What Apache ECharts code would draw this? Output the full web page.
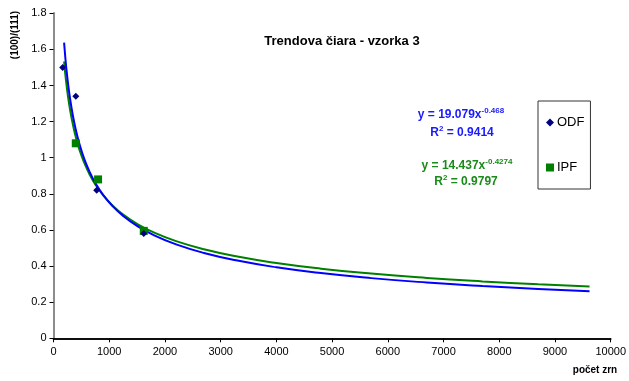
<!DOCTYPE html>
<html>
<head>
<meta charset="utf-8">
<style>
  html, body { margin: 0; padding: 0; background: #fff; }
  #chart { width: 629px; height: 381px; }
</style>
<script src="https://cdn.jsdelivr.net/npm/echarts@6/dist/echarts.min.js"></script>
</head>
<body>
<div id="chart"></div>
<script>
// Measured samples: grain count vs. (100)/(111) ratio
const odfX = [165, 400, 775, 1620];
const odfY = [1.50, 1.34, 0.82, 0.58];
const ipfX = [400, 800, 1620];
const ipfY = [1.08, 0.88, 0.595];

// Power-law trendlines y = a * x^b, coefficients as printed on the chart
const odfFit = [19.079, -0.468];
const ipfFit = [14.437, -0.4274];
const trendX = [190, 210, 230, 260, 300, 350, 400, 470, 550, 650, 750, 900, 1050,
                1250, 1500, 1800, 2200, 2700, 3300, 4000, 4800, 5700, 6700, 7700, 8700, 9620];

const xTicks = [0, 10000, 1000];
const yTicks = [0, 1.8, 0.2];

function trendPoints(fit) {
  return trendX.map(x => [x, fit[0] * Math.pow(x, fit[1])]);
}
function pairs(xs, ys) {
  return xs.map((x, i) => [x, ys[i]]);
}

const FONT = 'Liberation Sans, Arial, sans-serif';
const chart = echarts.init(document.getElementById('chart'), null, { renderer: 'canvas' });

function supLabel(main, sup, tail, color) {
  return {
    text: '{b|' + main + '}{s|' + sup + '}' + (tail ? '{b|' + tail + '}' : ''),
    rich: {
      b: { fontSize: 12, fontWeight: 'bold', fill: color, lineHeight: 16, fontFamily: FONT },
      s: { fontSize: 8, fontWeight: 'bold', fill: color, verticalAlign: 'top', fontFamily: FONT }
    }
  };
}

const blueTxt = '#1a1aff';
const greenTxt = '#1a8a1a';
const eqOdf = supLabel('y = ' + odfFit[0] + 'x', String(odfFit[1]), '', blueTxt);
const r2Odf = supLabel('R', '2', ' = 0.9414', blueTxt);
const eqIpf = supLabel('y = ' + ipfFit[0] + 'x', String(ipfFit[1]), '', greenTxt);
const r2Ipf = supLabel('R', '2', ' = 0.9797', greenTxt);

function textAt(lbl, x, y) {
  return { type: 'text', z: 10, style: Object.assign({ x: x, y: y, align: 'center', verticalAlign: 'middle' }, lbl) };
}

chart.setOption({
  animation: false,
  backgroundColor: '#fff',
  textStyle: { fontFamily: FONT },
  grid: { left: 53.5, right: 14.5, top: 13.3, bottom: 42.7 },
  xAxis: [{
    type: 'value', min: xTicks[0], max: xTicks[1], interval: xTicks[2],
    axisLine: { show: true, onZero: false, lineStyle: { color: '#000', width: 1.5 } },
    axisTick: { show: true, inside: false, length: 4, lineStyle: { color: '#000' } },
    axisLabel: { color: '#000', fontSize: 11, margin: 8, fontFamily: FONT,
                 formatter: v => String(v) },
    splitLine: { show: false }
  }, {
    type: 'value', position: 'top', min: xTicks[0], max: xTicks[1],
    axisLine: { show: true, lineStyle: { color: '#000', width: 1.5 } },
    axisTick: { show: false }, axisLabel: { show: false }, splitLine: { show: false }
  }],
  yAxis: [{
    type: 'value', min: yTicks[0], max: yTicks[1], interval: yTicks[2],
    axisLine: { show: true, onZero: false, lineStyle: { color: '#000', width: 1.5 } },
    axisTick: { show: true, inside: false, length: 4, lineStyle: { color: '#000' } },
    axisLabel: { color: '#000', fontSize: 11, margin: 7, fontFamily: FONT,
                 formatter: v => String(Math.round(v * 10) / 10) },
    splitLine: { show: false }
  }, {
    type: 'value', position: 'right', min: yTicks[0], max: yTicks[1],
    axisLine: { show: true, lineStyle: { color: '#8c8c8c', width: 2 } },
    axisTick: { show: false }, axisLabel: { show: false }, splitLine: { show: false }
  }],
  legend: {
    orient: 'vertical', left: 538, top: 101,
    padding: [15, 6, 15, 8], itemGap: 32,
    itemWidth: 8, itemHeight: 8,
    backgroundColor: '#fff', borderColor: '#333', borderWidth: 1,
    textStyle: { fontSize: 13, color: '#000', fontFamily: FONT, padding: [0, 0, 0, -2] },
    data: [
      { name: 'ODF', icon: 'diamond', itemStyle: { color: '#000080', opacity: 1 } },
      { name: 'IPF', icon: 'rect', itemStyle: { color: '#008000', opacity: 1 } }
    ]
  },
  graphic: [
    { type: 'text', z: 10, style: { text: 'Trendova čiara - vzorka 3', x: 342, y: 41,
      align: 'center', verticalAlign: 'middle', fill: '#000',
      font: 'bold 13px ' + FONT } },
    { type: 'text', z: 10, rotation: Math.PI / 2, x: 15, y: 35, style: { text: '(100)/(111)', x: 0, y: 0,
      align: 'center', verticalAlign: 'middle', fill: '#000',
      font: 'bold 10px ' + FONT } },
    { type: 'text', z: 10, style: { text: 'počet zrn', x: 595, y: 370,
      align: 'center', verticalAlign: 'middle', fill: '#000',
      font: 'bold 10px ' + FONT } },
    textAt(eqOdf, 461, 115),
    textAt(r2Odf, 462, 133),
    textAt(eqIpf, 467, 166),
    textAt(r2Ipf, 466, 182)
  ],
  series: [
    { name: 'ODF trend', type: 'line', data: trendPoints(odfFit), smooth: true,
      showSymbol: false, z: 2, lineStyle: { color: '#0000ff', width: 2 }, silent: true },
    { name: 'IPF trend', type: 'line', data: trendPoints(ipfFit), smooth: true,
      showSymbol: false, z: 1, lineStyle: { color: '#008000', width: 2 }, silent: true },
    { name: 'ODF', type: 'scatter', data: pairs(odfX, odfY), symbol: 'diamond',
      symbolSize: 7, z: 5, itemStyle: { color: '#000080', opacity: 1 } },
    { name: 'IPF', type: 'scatter', data: pairs(ipfX, ipfY), symbol: 'rect',
      symbolSize: 8, z: 4, itemStyle: { color: '#008000', opacity: 1 } }
  ]
});
</script>
</body>
</html>
